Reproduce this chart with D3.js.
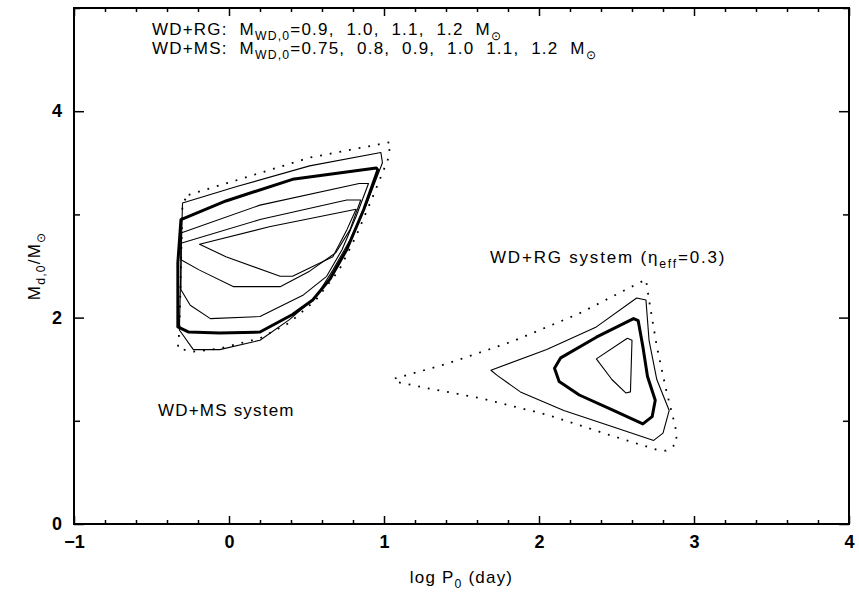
<!DOCTYPE html>
<html>
<head>
<meta charset="UTF-8">
<script src="https://d3js.org/d3.v7.min.js"></script>
<style>
  body { margin: 0; background: #fff; }
  svg text { font-family: "Liberation Sans", Arial, sans-serif; fill: #000; }
  .lbl { font-size: 17px; letter-spacing: 1.2px; white-space: pre; }
  .tick text { font-family: "Liberation Sans", Arial, sans-serif; font-size: 18px; font-weight: bold; }
  .contour { fill: none; stroke: #000; stroke-linejoin: round; }
</style>
</head>
<body>
<div id="chart"></div>
<script>
// contours in (log P0, Md0)
const msDotted = [[-0.26,3.19],[0.09,3.35],[0.52,3.55],[1.04,3.70],[1.03,3.55],[0.93,3.18],[0.82,2.79],[0.71,2.46],[0.56,2.17],[0.39,1.95],[0.20,1.80],[-0.06,1.70],[-0.23,1.67],[-0.33,1.70],[-0.32,1.88],[-0.30,3.11]];
const msOuter = [[-0.30,3.11],[0.05,3.27],[0.52,3.47],[0.98,3.60],[0.99,3.50],[0.89,3.11],[0.78,2.75],[0.67,2.46],[0.56,2.20],[0.39,1.98],[0.20,1.78],[-0.06,1.69],[-0.23,1.69],[-0.32,1.88],[-0.31,2.53]];
const msThick = [[-0.31,2.95],[-0.02,3.13],[0.41,3.34],[0.95,3.45],[0.96,3.43],[0.87,3.05],[0.76,2.66],[0.65,2.37],[0.54,2.17],[0.41,2.03],[0.20,1.86],[-0.06,1.85],[-0.26,1.86],[-0.33,1.91],[-0.33,2.53]];
const msA = [[-0.31,2.82],[0.20,3.09],[0.84,3.30],[0.90,3.30],[0.82,2.98],[0.73,2.66],[0.63,2.40],[0.48,2.22],[0.20,2.01],[-0.12,1.99],[-0.25,2.12],[-0.31,2.27]];
const msB = [[-0.31,2.72],[0.20,2.95],[0.76,3.14],[0.85,3.14],[0.78,2.85],[0.69,2.63],[0.52,2.45],[0.33,2.30],[0.03,2.30],[-0.19,2.46],[-0.31,2.56]];
const msC = [[-0.19,2.71],[0.26,2.88],[0.82,3.05],[0.76,2.85],[0.67,2.59],[0.41,2.40],[0.33,2.40],[-0.02,2.59]];

const rgDotted = [[1.07,1.41],[1.40,1.55],[1.83,1.77],[2.26,2.04],[2.52,2.24],[2.69,2.37],[2.71,2.17],[2.76,1.72],[2.82,1.30],[2.88,0.94],[2.89,0.78],[2.82,0.71],[2.76,0.72],[2.48,0.85],[2.05,1.06],[1.62,1.22],[1.30,1.31],[1.07,1.38]];
const rgOuter = [[1.69,1.49],[2.05,1.69],[2.37,1.91],[2.63,2.19],[2.69,2.17],[2.71,1.78],[2.76,1.40],[2.84,1.10],[2.80,0.88],[2.74,0.81],[2.48,0.94],[2.16,1.10],[1.88,1.28],[1.73,1.44]];
const rgThick = [[2.10,1.51],[2.14,1.61],[2.37,1.81],[2.61,1.99],[2.64,1.97],[2.67,1.72],[2.70,1.43],[2.75,1.20],[2.73,1.04],[2.67,0.97],[2.48,1.10],[2.26,1.25],[2.13,1.38]];
const rgInner = [[2.37,1.60],[2.57,1.80],[2.60,1.78],[2.59,1.28],[2.56,1.27],[2.47,1.40]];

const xMajor = [-1, 0, 1, 2, 3, 4];
const yMajor = [0, 2, 4];
const yMinor = [1, 3, 5];

const width = 859, height = 595;
const margin = {top: 8, right: 10, bottom: 71, left: 74};

const svg = d3.select("#chart").append("svg")
  .attr("width", width)
  .attr("height", height);

const x = d3.scaleLinear().domain([-1, 4]).range([margin.left, width - margin.right]);
const y = d3.scaleLinear().domain([0, 5]).range([height - margin.bottom, margin.top]);

const xMinor = d3.range(-1, 4.001, 0.2).filter(v => Math.abs(v - Math.round(v)) > 1e-6);
const fmt = d3.format("d");

// axes (ticks point inward on all four sides)
function ax(gen, tr) {
  const g = svg.append("g").attr("transform", tr).call(gen);
  g.select(".domain").remove();
  g.selectAll(".tick line").attr("stroke", "#000").attr("stroke-width", 1.5);
  return g;
}
const bottomY = height - margin.bottom, rightX = width - margin.right;
ax(d3.axisBottom(x).tickValues(xMajor).tickSize(-8).tickPadding(11).tickFormat(fmt), `translate(0,${bottomY})`);
ax(d3.axisBottom(x).tickValues(xMinor).tickSize(-4).tickFormat(""), `translate(0,${bottomY})`);
ax(d3.axisTop(x).tickValues(xMajor).tickSize(-8).tickFormat(""), `translate(0,${margin.top})`);
ax(d3.axisTop(x).tickValues(xMinor).tickSize(-4).tickFormat(""), `translate(0,${margin.top})`);
ax(d3.axisLeft(y).tickValues(yMajor).tickSize(-10).tickPadding(12).tickFormat(fmt), `translate(${margin.left},0)`);
ax(d3.axisLeft(y).tickValues(yMinor).tickSize(-6).tickFormat(""), `translate(${margin.left},0)`);
ax(d3.axisRight(y).tickValues(yMajor).tickSize(-10).tickFormat(""), `translate(${rightX},0)`);
ax(d3.axisRight(y).tickValues(yMinor).tickSize(-6).tickFormat(""), `translate(${rightX},0)`);

svg.append("rect")
  .attr("x", margin.left).attr("y", margin.top)
  .attr("width", rightX - margin.left).attr("height", bottomY - margin.top)
  .attr("fill", "none").attr("stroke", "#000").attr("stroke-width", 2);

// contours
const line = d3.line().x(d => x(d[0])).y(d => y(d[1])).curve(d3.curveLinearClosed);
const contours = [
  {pts: msDotted, w: 1.8, dash: "1.8,8"},
  {pts: msOuter, w: 1.1},
  {pts: msA, w: 1.1},
  {pts: msB, w: 1.1},
  {pts: msC, w: 1.1},
  {pts: msThick, w: 3},
  {pts: rgDotted, w: 1.8, dash: "1.8,8"},
  {pts: rgOuter, w: 1.1},
  {pts: rgInner, w: 1.1},
  {pts: rgThick, w: 3}
];
svg.append("g").selectAll("path")
  .data(contours)
  .join("path")
  .attr("class", "contour")
  .attr("d", d => line(d.pts))
  .attr("stroke-width", d => d.w)
  .attr("stroke-dasharray", d => d.dash || null);

// text helper: parts as [string, isSub]
function rich(t, parts, size) {
  let sub = false;
  parts.forEach(([s, isSub]) => {
    const ts = t.append("tspan").text(s);
    if (isSub && !sub) ts.attr("dy", size * 0.3).attr("font-size", size * 0.72);
    else if (!isSub && sub) ts.attr("dy", -size * 0.3);
    else if (isSub) ts.attr("font-size", size * 0.72);
    sub = isSub;
  });
}

const t1 = svg.append("text").attr("class", "lbl").attr("x", 152).attr("y", 35);
rich(t1, [["WD+RG:  M", false], ["WD,0", true], ["=0.9,  1.0,  1.1,  1.2  M", false], ["\u2299", true]], 17);
const t2 = svg.append("text").attr("class", "lbl").attr("x", 152).attr("y", 54);
rich(t2, [["WD+MS:  M", false], ["WD,0", true], ["=0.75,  0.8,  0.9,  1.0  1.1,  1.2  M", false], ["\u2299", true]], 17);

const t3 = svg.append("text").attr("class", "lbl").attr("x", 490).attr("y", 263)
  .style("letter-spacing", "1.8px");
rich(t3, [["WD+RG system (", false], ["\u03b7", false], ["eff", true], ["=0.3)", false]], 17);
svg.append("text").attr("class", "lbl").attr("x", 158).attr("y", 416).text("WD+MS system");

// axis titles
const xt = svg.append("text").attr("class", "lbl").attr("text-anchor", "middle")
  .attr("x", (margin.left + rightX) / 2).attr("y", 583);
rich(xt, [["log P", false], ["0", true], [" (day)", false]], 17);

const yt = svg.append("text").attr("class", "lbl").attr("text-anchor", "middle")
  .attr("transform", `translate(40,${(margin.top + bottomY) / 2}) rotate(-90)`);
rich(yt, [["M", false], ["d,0", true], ["/M", false], ["\u2299", true]], 17);
</script>
</body>
</html>
